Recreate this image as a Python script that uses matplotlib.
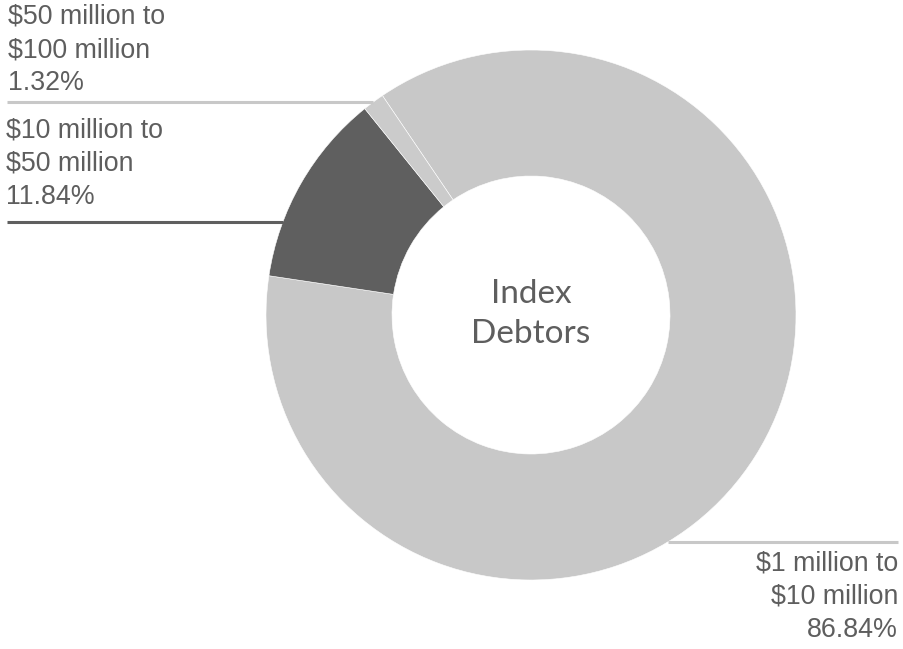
import numpy as np
import matplotlib.pyplot as plt

labels = ["$1 million to\n$10 million", "$10 million to\n$50 million", "$50 million to\n$100 million"]
shares = [86.84, 11.84, 1.32]
colors = ["#c8c8c8", "#5f5f5f", "#cbcbcb"]
line_colors = ["#c8c8c8", "#5f5f5f", "#c8c8c8"]

W, H = 904, 649
fig = plt.figure(figsize=(W / 100, H / 100), dpi=100)
ax = fig.add_axes([0, 0, 1, 1])

cx, cy = 531, H - 315
R, r_in = 265, 139

ax.pie(shares, colors=colors, radius=R, center=(cx, cy), startangle=124.1,
       counterclock=False, frame=True,
       wedgeprops=dict(width=R - r_in, edgecolor="white", linewidth=0.4))
ax.set_xlim(0, W)
ax.set_ylim(0, H)
ax.set_aspect("equal")
ax.axis("off")

txt = "#5e5e5e"
font = ["Liberation Sans", "DejaVu Sans"]

# leader lines: horizontal, ending on the outer edge of the ring
def edge_x(y_px, side):
    dy = (H - y_px) - cy
    return cx + side * np.sqrt(R ** 2 - dy ** 2)

# (label index, line y in px, side, text x, text y center, alignment)
placements = [
    (2, 102, -1, 8, 50, "left"),
    (1, 222, -1, 6, 164, "left"),
    (0, 542, 1, 898, 597, "right"),
]
for i, ly, side, tx, ty, ha in placements:
    if side < 0:
        xs = [7, edge_x(ly, side)]
    else:
        xs = [edge_x(ly, side), 898]
    ax.plot(xs, [H - ly, H - ly], color=line_colors[i], lw=2.2, solid_capstyle="butt")
    ax.text(tx, H - ty, f"{labels[i]}\n{shares[i]:.2f}%", ha=ha, va="center",
            fontsize=19.3, color=txt, family=font, linespacing=1.36)

ax.text(cx, cy + 1, "Index\nDebtors", ha="center", va="center", fontsize=24,
        color=txt, family=["Lato", "DejaVu Sans"], linespacing=1.45)

fig.savefig("out.png", dpi=100, facecolor="white")
